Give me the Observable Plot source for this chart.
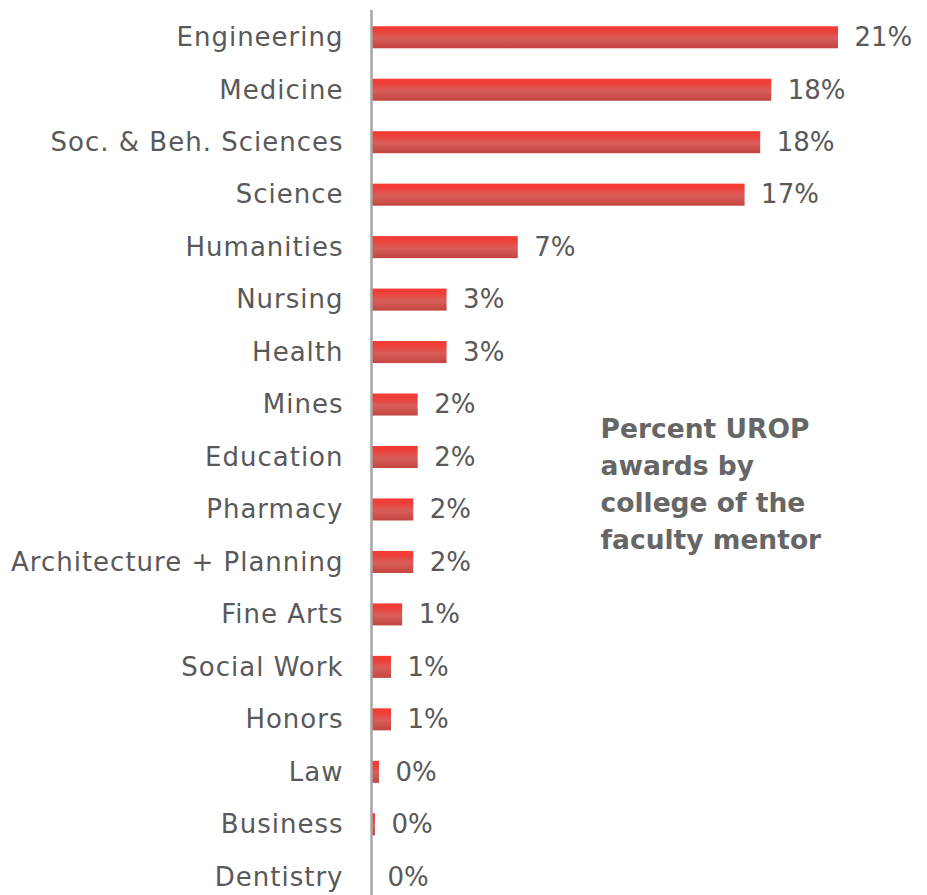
<!DOCTYPE html>
<html>
<head>
<meta charset="utf-8">
<script src="https://cdn.jsdelivr.net/npm/d3@7"></script>
<script src="https://cdn.jsdelivr.net/npm/@observablehq/plot@0.6"></script>
<style>
  html, body { margin: 0; padding: 0; background: #fff; }
  #chart { width: 927px; height: 895px; }
  .ylab text { letter-spacing: 1px; }
</style>
</head>
<body>
<div id="chart"></div>
<script>
const colleges = ["Engineering", "Medicine", "Soc. & Beh. Sciences", "Science", "Humanities", "Nursing", "Health", "Mines", "Education", "Pharmacy", "Architecture + Planning", "Fine Arts", "Social Work", "Honors", "Law", "Business", "Dentistry"];
const percents = [21.0, 18.0, 17.5, 16.8, 6.6, 3.4, 3.4, 2.1, 2.1, 1.9, 1.9, 1.4, 0.9, 0.9, 0.36, 0.18, 0];
const annotation = "Percent UROP\nawards by\ncollege of the\nfaculty mentor";

const data = colleges.map((c, i) => ({college: c, pct: percents[i]}));
const FONT = "'DejaVu Sans', sans-serif";

const plot = Plot.plot({
  width: 927,
  height: 895,
  marginLeft: 371,
  marginRight: 89,
  marginTop: 21,
  marginBottom: 2,
  style: {fontFamily: FONT, fontSize: "26px", color: "#595959", background: "#fff"},
  x: {domain: [0, 21], axis: null},
  y: {domain: colleges, padding: 0.58, paddingOuter: 0.1, round: false, label: null},
  marks: [
    Plot.barX(data, {y: "college", x: "pct", fill: "url(#barGrad)"}),
    Plot.axisY({tickSize: 0, tickPadding: 28, fontSize: 26, fill: "#595959", label: null, className: "ylab"}),
    Plot.ruleX([0], {stroke: "#a6a6a6", strokeWidth: 2.5, insetTop: -11, insetBottom: -5}),
    Plot.text(data, {y: "college", x: "pct", text: d => Math.round(d.pct) + "%", dx: 16, textAnchor: "start", fill: "#595959", fontSize: 26}),
    Plot.text([annotation], {x: () => 10.3, y: () => "Education", dy: 24, text: d => d, textAnchor: "start", lineAnchor: "middle", lineHeight: 1.4, fontSize: 26.5, fontWeight: "bold", fill: "#666666"})
  ]
});

const ns = "http://www.w3.org/2000/svg";
const defs = document.createElementNS(ns, "defs");
defs.innerHTML = `<linearGradient id="barGrad" x1="0" y1="0" x2="0" y2="1">
  <stop offset="0" stop-color="#f63a32"/>
  <stop offset="0.2" stop-color="#ee3f38"/>
  <stop offset="0.55" stop-color="#d85e59"/>
  <stop offset="1" stop-color="#c4443e"/>
</linearGradient>`;
plot.insertBefore(defs, plot.firstChild);
document.getElementById("chart").appendChild(plot);
</script>
</body>
</html>
